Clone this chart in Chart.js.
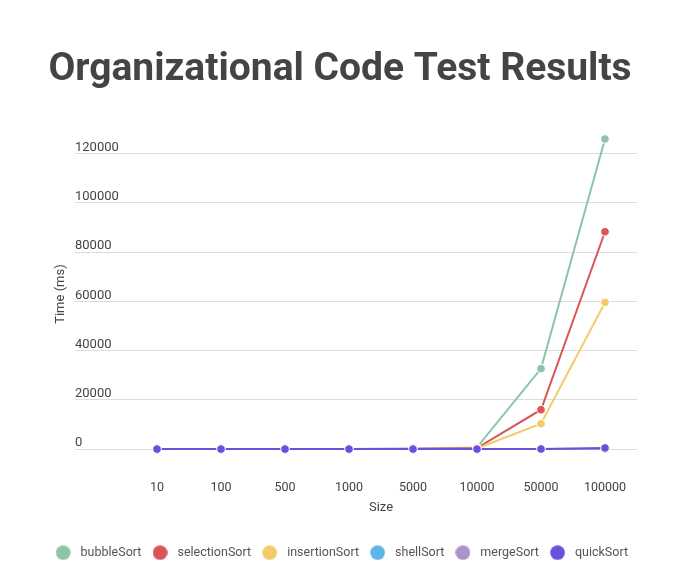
<!DOCTYPE html>
<html>
<head>
<meta charset="utf-8">
<script src="https://cdn.jsdelivr.net/npm/chart.js@4/dist/chart.umd.min.js"></script>
<style>
  html, body { margin: 0; padding: 0; background: #fff; }
  #wrap { width: 696px; height: 569px; }
</style>
</head>
<body>
<div id="wrap"><canvas id="chart"></canvas></div>
<script>
// data
const sizes = ["10", "100", "500", "1000", "5000", "10000", "50000", "100000"];
const bubbleSort = [0, 1, 8, 30, 180, 700, 32700, 126000];
const selectionSort = [0, 1, 5, 18, 100, 400, 16000, 88300];
const insertionSort = [0, 0, 3, 10, 60, 250, 10300, 59600];
const shellSort = [0, 0, 0, 1, 3, 6, 40, 90];
const mergeSort = [0, 0, 1, 2, 6, 12, 70, 150];
const quickSort = [0, 0, 0, 1, 3, 5, 40, 450];
const yTicks = [0, 20000, 40000, 60000, 80000, 100000, 120000];

const seriesNames = ["bubbleSort", "selectionSort", "insertionSort", "shellSort", "mergeSort", "quickSort"];
const seriesData = [bubbleSort, selectionSort, insertionSort, shellSort, mergeSort, quickSort];
const colors = ["#8DC4A8", "#DB5456", "#F2CB6B", "#5DB6E6", "#AC91CA", "#6B50DA"];

// round legend markers
function makeDot(color) {
  const c = document.createElement("canvas");
  c.width = 15;
  c.height = 15;
  const g = c.getContext("2d");
  g.fillStyle = color;
  g.beginPath();
  g.arc(7.5, 7.5, 7.3, 0, Math.PI * 2);
  g.fill();
  return c;
}
const dots = colors.map(makeDot);

Chart.defaults.font.family = "Roboto";
Chart.defaults.color = "#444";

new Chart(document.getElementById("chart"), {
  type: "line",
  data: {
    labels: sizes,
    datasets: seriesNames.map((name, i) => ({
      label: name,
      data: seriesData[i],
      borderColor: colors[i],
      backgroundColor: colors[i],
      borderWidth: 2,
      pointRadius: 4.3,
      pointBorderColor: "#fff",
      pointBorderWidth: 1,
      tension: 0,
      clip: false,
      order: seriesNames.length - i, // last series on top
    })),
  },
  options: {
    responsive: true,
    maintainAspectRatio: false,
    animation: false,
    devicePixelRatio: 1,
    layout: {
      padding: { left: 37, right: 53, top: 0, bottom: 0 },
    },
    plugins: {
      title: {
        display: true,
        text: "Organizational Code Test Results",
        font: { size: 39, weight: "bold" },
        color: "#444",
        padding: { top: 47, bottom: 45.2 },
      },
      legend: {
        position: "bottom",
        labels: {
          font: { size: 12.5 },
          color: "#555",
          usePointStyle: true,
          pointStyleWidth: 22.4,
          boxHeight: 12.5,
          padding: 7.4,
          sort: (a, b) => a.datasetIndex - b.datasetIndex,
          generateLabels(chart) {
            const items = Chart.defaults.plugins.legend.labels.generateLabels(chart);
            items.forEach((it) => {
              it.pointStyle = dots[it.datasetIndex];
            });
            return items;
          },
        },
      },
      tooltip: { enabled: false },
    },
    scales: {
      x: {
        offset: true,
        grid: { display: false, drawTicks: false },
        border: { display: false },
        ticks: { font: { size: 12.5 }, color: "#444", padding: 31.5, maxRotation: 0 },
        title: {
          display: true,
          text: "Size",
          font: { size: 13 },
          color: "#444",
          padding: { top: 4, bottom: 24 },
        },
        afterFit(scale) {
          scale.height = 90;
        },
      },
      y: {
        min: 0,
        max: Math.max(...bubbleSort), // top point must sit inside the area to be drawn
        weight: 0,
        border: { display: false },
        grid: { color: "#dcdcdc", tickLength: 50, drawTicks: true },
        ticks: {
          crossAlign: "far",
          labelOffset: -6,
          font: { size: 13 },
          color: "#444",
          callback: (v) => String(v),
        },
        afterBuildTicks(scale) {
          scale.ticks = yTicks.map((v) => ({ value: v }));
        },
        afterFit(scale) {
          scale.width = 50;
        },
      },
      // holds only the y axis title, outside the tick labels
      yTitle: {
        type: "linear",
        position: "left",
        weight: 1,
        display: true,
        grid: { display: false, drawTicks: false },
        border: { display: false },
        ticks: { display: false },
        title: {
          display: true,
          text: "Time (ms)",
          font: { size: 13 },
          color: "#444",
          padding: { top: 16, bottom: 6 },
        },
        afterFit(scale) {
          scale.width = 38;
        },
      },
      // right margin that the legend may still use
      spacer: {
        type: "linear",
        position: "right",
        display: true,
        grid: { display: false, drawTicks: false },
        border: { display: false },
        ticks: { display: false },
        afterFit(scale) {
          scale.width = 6;
        },
      },
    },
  },
});
</script>
</body>
</html>
